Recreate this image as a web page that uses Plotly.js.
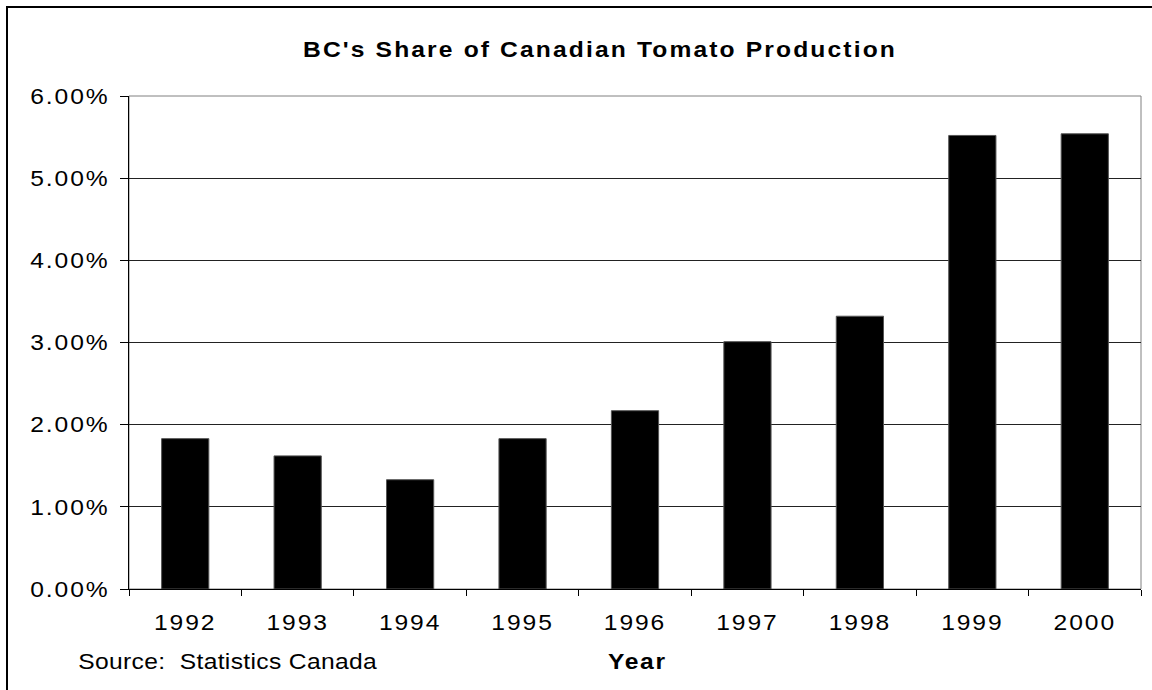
<!DOCTYPE html>
<html>
<head>
<meta charset="utf-8">
<script src="https://cdn.plot.ly/plotly-3.0.1.min.js"></script>
<style>
  html, body { margin: 0; padding: 0; background: #fff; }
  #chart { width: 1152px; height: 690px; }
  .xtick text, .ytick text { letter-spacing: 1.7px; }
  .gtitle { letter-spacing: 1.9px; }
  g.annotation[data-index="1"] text { letter-spacing: 1.5px; }
  g.annotation[data-index="0"] text { letter-spacing: 0.3px; }
</style>
</head>
<body>
<div id="chart"></div>
<script>
// Data
const years = ["1992", "1993", "1994", "1995", "1996", "1997", "1998", "1999", "2000"];
const bcShare = [0.0183, 0.0162, 0.0133, 0.0183, 0.0217, 0.0301, 0.0332, 0.0552, 0.0554];
const yTickValues = [0, 0.01, 0.02, 0.03, 0.04, 0.05, 0.06];

const chartTitle = "BC's Share of Canadian Tomato Production";
const xTitle = "Year";
const sourceNote = "Source:  Statistics Canada";

const FONT = "Liberation Sans, Arial, Helvetica, sans-serif";

const trace = {
  type: "bar",
  x: years,
  y: bcShare,
  marker: { color: "#000000", line: { color: "#555555", width: 1 } },
  hoverinfo: "x+y"
};

const layout = {
  width: 1152,
  height: 690,
  margin: { l: 129, r: 11, t: 96, b: 101, pad: 0 },
  paper_bgcolor: "#ffffff",
  plot_bgcolor: "#ffffff",
  showlegend: false,
  bargap: 0.58,
  font: { family: FONT, size: 22, color: "#000000" },
  title: {
    text: chartTitle,
    font: { family: FONT, size: 22, color: "#000000", weight: "bold" },
    xref: "container", x: 600 / 1152, xanchor: "center",
    yref: "container", y: 1 - 49 / 690, yanchor: "middle"
  },
  xaxis: {
    type: "category",
    tickson: "boundaries",
    ticks: "outside",
    ticklen: 6,
    tickwidth: 1,
    tickcolor: "#000000",
    showline: true,
    linecolor: "#000000",
    linewidth: 1,
    showgrid: false,
    zeroline: false,
    tickfont: { family: FONT, size: 22, color: "#000000" },
    ticklabelstandoff: 14,
    fixedrange: true
  },
  yaxis: {
    range: [0, 0.06],
    tickvals: yTickValues,
    tickformat: ".2%",
    ticks: "outside",
    ticklen: 8,
    tickwidth: 1,
    tickcolor: "#000000",
    showline: true,
    linecolor: "#000000",
    linewidth: 1,
    showgrid: true,
    gridcolor: "#222222",
    gridwidth: 1,
    zeroline: false,
    tickfont: { family: FONT, size: 22, color: "#000000" },
    ticklabelstandoff: 6,
    fixedrange: true
  },
  shapes: [
    {
      type: "rect", xref: "paper", yref: "paper",
      x0: 0, x1: 1, y0: 0, y1: 1,
      line: { color: "#808080", width: 1 },
      layer: "below"
    },
    {
      type: "rect", xref: "paper", yref: "paper",
      x0: (7 - 129) / 1012, x1: (1175 - 129) / 1012,
      y0: (588.7 - 710) / 492.7, y1: (588.7 - 7) / 492.7,
      line: { color: "#000000", width: 2 },
      layer: "below"
    }
  ],
  annotations: [
    {
      text: sourceNote,
      xref: "paper", yref: "paper",
      x: (228 - 129) / 1012, xanchor: "center",
      y: (588.7 - 661) / 492.7, yanchor: "middle",
      showarrow: false,
      font: { family: FONT, size: 22, color: "#000000" }
    },
    {
      text: xTitle,
      xref: "paper", yref: "paper",
      x: (637 - 129) / 1012, xanchor: "center",
      y: (588.7 - 661) / 492.7, yanchor: "middle",
      showarrow: false,
      font: { family: FONT, size: 22, color: "#000000", weight: "bold" }
    }
  ]
};

// The reference lettering is slightly widened; stretch rendered text around its anchor point.
function stretchText(root, selector, s) {
  root.querySelectorAll(selector).forEach(function (t) {
    const bb = t.getBBox();
    const anchor = t.getAttribute("text-anchor") || "start";
    let cx = bb.x;
    if (anchor === "middle") cx = bb.x + bb.width / 2;
    else if (anchor === "end") cx = bb.x + bb.width;
    const prev = t.getAttribute("transform") || "";
    t.setAttribute("transform",
      (prev + " translate(" + cx + ",0) scale(" + s + ",1) translate(" + (-cx) + ",0)").trim());
  });
}

const gd = document.getElementById("chart");
Plotly.newPlot(gd, [trace], layout, { displayModeBar: false, staticPlot: true }).then(function () {
  stretchText(gd, ".xtick text", 1.12);
  stretchText(gd, ".ytick text", 1.12);
  stretchText(gd, ".gtitle", 1.12);
  stretchText(gd, 'g.annotation[data-index="0"] text', 1.12);
  stretchText(gd, 'g.annotation[data-index="1"] text', 1.12);
});
</script>
</body>
</html>
